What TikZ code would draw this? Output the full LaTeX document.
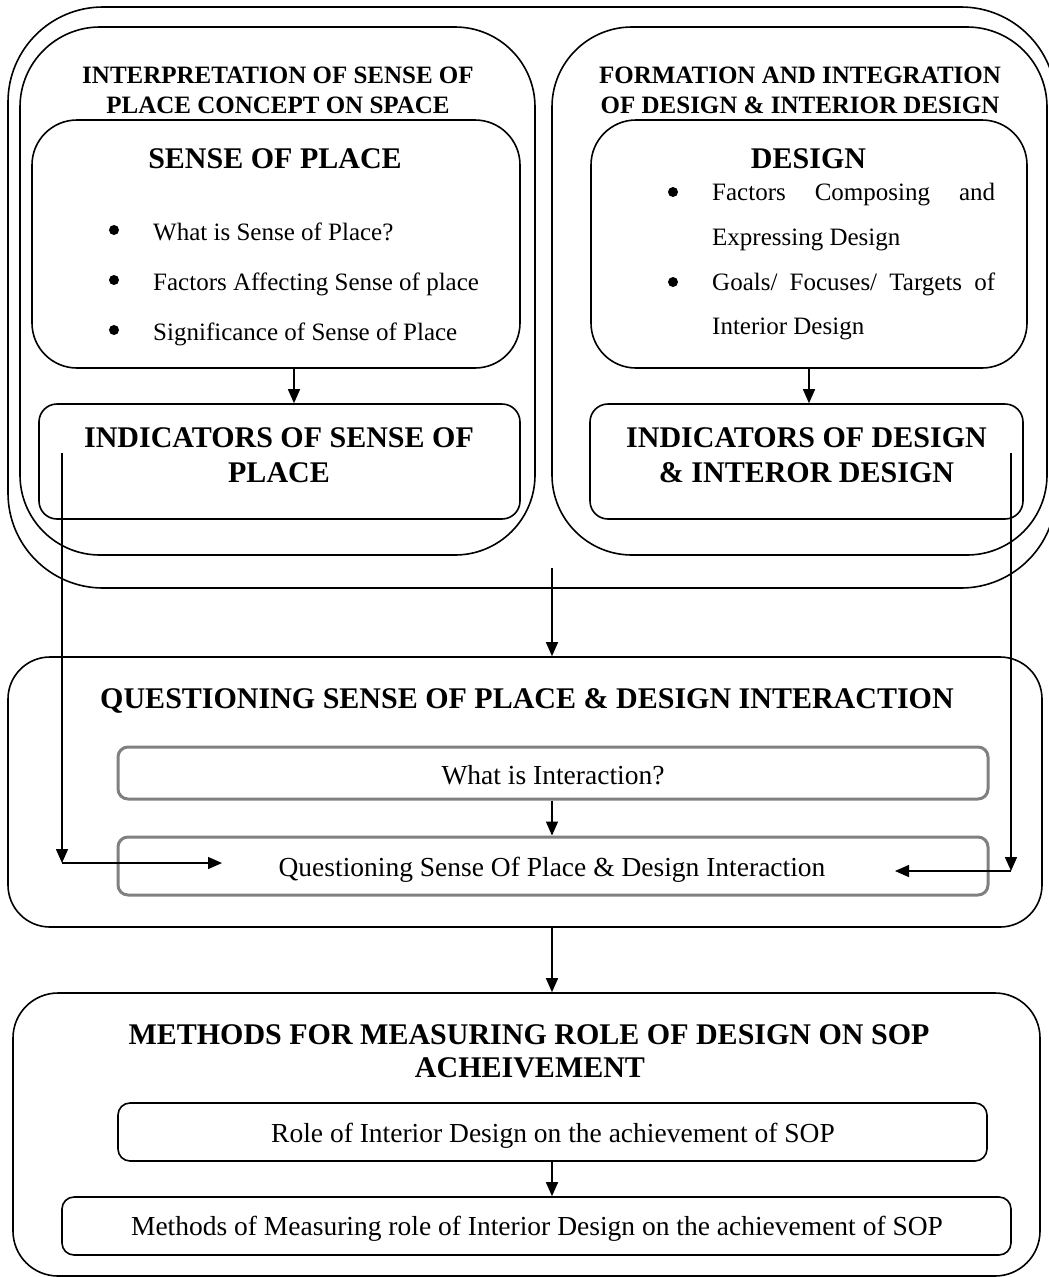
\documentclass[tikz,border=0pt]{standalone}
\usepackage{fontspec}
\setmainfont{Liberation Serif}
\usetikzlibrary{arrows.meta}
\definecolor{boxgrey}{RGB}{128,128,128}

% rounded panel given by its corners: name, style, x1, y1, x2, y2
\newcommand{\panel}[6]{%
  \node[#2, minimum width={(#5-#3)*1pt}, minimum height={(#6-#4)*1pt}]
    (#1) at ({(#3+#5)/2},{(#4+#6)/2}) {};}

\begin{document}
\begin{tikzpicture}[x=1pt,y=-1pt,
  frame/.style={draw=black, line width=1.6pt, inner sep=0pt},
  greybox/.style={draw=boxgrey, line width=3pt, rounded corners=10pt, inner sep=0pt},
  arr/.style={line width=1.5pt, -{Triangle[length=14pt,width=12pt]}},
  headA/.style={font=\fontsize{25}{30}\selectfont\bfseries, anchor=base, inner sep=0pt},
  headB/.style={font=\fontsize{30}{34}\selectfont\bfseries, anchor=base, inner sep=0pt},
  body/.style={font=\fontsize{25}{30}\selectfont, anchor=base west, inner sep=0pt},
  item/.style={font=\fontsize{27.5}{32}\selectfont, anchor=base, inner sep=0pt},
  dot/.style={circle, fill=black, inner sep=0pt, minimum size=10pt},
]
\useasboundingbox (0,0) rectangle (1049,1277);

% ---- top block: two columns in a common frame ----
\panel{outer}{frame, rounded corners=95pt}{8}{7}{1056}{588}
\panel{colleft}{frame, rounded corners=80pt}{20}{27}{535}{555}
\panel{colright}{frame, rounded corners=80pt}{552}{27}{1047}{555}

\node[headA] (ltitle1) at (278,83) {INTERPRETATION OF SENSE OF};
\node[headA] (ltitle2) at (278,113) {PLACE CONCEPT ON SPACE};
\node[headA] (rtitle1) at (800,83) {FORMATION AND INTEGRATION};
\node[headA] (rtitle2) at (800,113) {OF DESIGN \& INTERIOR DESIGN};

% left column
\panel{sop}{frame, rounded corners=45pt}{32}{120}{520}{368}
\node[headB] (sophead) at (275,168) {SENSE OF PLACE};
\node[dot] (sb1) at (114,230) {};
\node[body] (st1) at (153,240) {What is Sense of Place?};
\node[dot] (sb2) at (114,280) {};
\node[body] (st2) at (153,290) {Factors Affecting Sense of place};
\node[dot] (sb3) at (114,330) {};
\node[body] (st3) at (153,340) {Significance of Sense of Place};

\panel{indsop}{frame, rounded corners=18pt}{39}{404}{520}{519}
\node[headB] (indsop1) at (279,447) {INDICATORS OF SENSE OF};
\node[headB] (indsop2) at (279,482) {PLACE};

% right column
\panel{design}{frame, rounded corners=45pt}{591}{120}{1027}{368}
\node[headB] (deshead) at (808.5,168) {DESIGN};
\node[dot] (db1) at (673,192) {};
\node[body] (dt1) at (712,200) {\makebox[283pt][s]{Factors Composing and}};
\node[body] (dt2) at (712,245) {Expressing Design};
\node[dot] (db2) at (673,282) {};
\node[body] (dt3) at (712,290) {\makebox[283pt][s]{Goals/ Focuses/ Targets of}};
\node[body] (dt4) at (712,334) {Interior Design};

\panel{inddes}{frame, rounded corners=18pt}{590}{404}{1023}{519}
\node[headB] (inddes1) at (806.5,447) {INDICATORS OF DESIGN};
\node[headB] (inddes2) at (806.5,482) {\& INTEROR DESIGN};

% ---- interaction block ----
\panel{quest}{frame, rounded corners=42pt}{8}{657}{1042}{927}
\node[headB] (questhead) at (527,708) {QUESTIONING SENSE OF PLACE \& DESIGN INTERACTION};
\panel{whatint}{greybox}{118}{747}{988}{799}
\node[item] (whatinttxt) at (553,784) {What is Interaction?};
\panel{qsop}{greybox}{118}{837}{988}{895}
\node[item] (qsoptxt) at (552,876) {Questioning Sense Of Place \& Design Interaction};

% ---- measuring block ----
\panel{methods}{frame, rounded corners=45pt}{13}{993}{1040}{1276}
\node[headB] (methhead1) at (529,1044) {METHODS FOR MEASURING ROLE OF DESIGN ON SOP};
\node[headB] (methhead2) at (530,1077) {ACHEIVEMENT};
\panel{role}{frame, rounded corners=12pt}{118}{1103}{987}{1161}
\node[item] (roletxt) at (553,1142) {Role of Interior Design on the achievement of SOP};
\panel{measure}{frame, rounded corners=12pt}{62}{1197}{1011}{1255}
\node[item] (measuretxt) at (537,1235) {Methods of Measuring role of Interior Design on the achievement of SOP};

% ---- connectors ----
\coordinate (colL) at (294,0);
\coordinate (colR) at (809,0);
\coordinate (mid) at (552,0);
\coordinate (outfoot) at (552,568);

\draw[arr] (sop.south -| colL) -- (indsop.north -| colL);
\draw[arr] (design.south -| colR) -- (inddes.north -| colR);
\draw[arr] (outfoot) -- (quest.north -| mid);
\draw[arr] (whatint.south -| mid) -- (qsop.north -| mid);
\draw[arr] (quest.south -| mid) -- (methods.north -| mid);
\draw[arr] (role.south -| mid) -- (measure.north -| mid);

% elbow links from the indicator boxes into the questioning box
\coordinate (lstart) at (62,453);
\coordinate (lcorner) at (62,863);
\coordinate (lend) at (222,863);
\draw[arr] (lstart) -- (lcorner);
\draw[arr] (lcorner) -- (lend);

\coordinate (rstart) at (1011,453);
\coordinate (rcorner) at (1011,871);
\coordinate (rend) at (895,871);
\draw[arr] (rstart) -- (rcorner);
\draw[arr] (rcorner) -- (rend);

\end{tikzpicture}
\end{document}
